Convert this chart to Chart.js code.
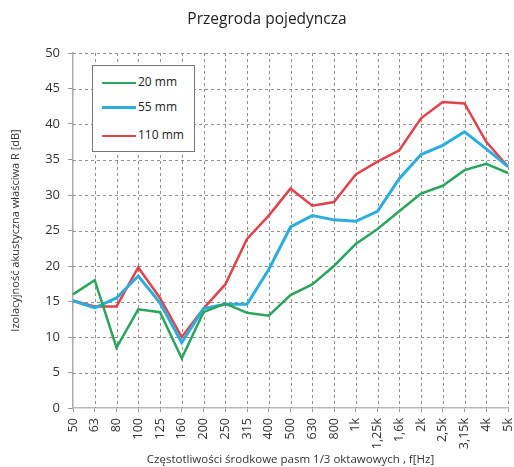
<!DOCTYPE html>
<html>
<head>
<meta charset="utf-8">
<script src="https://cdn.jsdelivr.net/npm/chart.js@4"></script>
<style>
  body { margin: 0; background: #fff; }
  #wrap { position: relative; width: 514px; height: 467px; }
  #legend {
    position: absolute; left: 92px; top: 65px; width: 101px; height: 85px;
    border: 1.5px solid #777; background: #fff;
    font-family: "Open Sans", sans-serif; font-size: 12px; color: #222;
  }
  #legend .row { position: absolute; left: 9px; height: 14px; line-height: 14px; }
  #legend .sw { display: inline-block; width: 34px; vertical-align: middle; margin-right: 2px; }
</style>
</head>
<body>
<div id="wrap">
  <canvas id="chart" width="514" height="467"></canvas>
  <div id="legend"></div>
</div>
<script>
const freqLabels = ['50', '63', '80', '100', '125', '160', '200', '250', '315', '400', '500',
  '630', '800', '1k', '1,25k', '1,6k', '2k', '2,5k', '3,15k', '4k', '5k'];
const r20 = [16.0, 18.0, 8.5, 13.9, 13.5, 7.0, 13.5, 14.7, 13.4, 13.0, 15.9,
  17.4, 20.0, 23.1, 25.2, 27.7, 30.2, 31.3, 33.5, 34.4, 33.1];
const r55 = [15.1, 14.1, 15.5, 18.6, 14.8, 9.2, 14.0, 14.6, 14.6, 19.5, 25.5,
  27.1, 26.5, 26.3, 27.7, 32.3, 35.7, 37.0, 38.9, 36.5, 34.0];
const r110 = [15.1, 14.3, 14.3, 19.8, 15.5, 10.0, 14.0, 17.4, 23.8, 27.1, 30.9,
  28.5, 29.0, 32.9, 34.7, 36.3, 40.8, 43.1, 42.9, 37.5, 34.0];

const series = [
  { label: '20 mm', data: r20, color: '#2ba55b', width: 2.5 },
  { label: '55 mm', data: r55, color: '#2badde', width: 3 },
  { label: '110 mm', data: r110, color: '#e2434b', width: 2.5 }
];

const font = "'Open Sans', sans-serif";
const gridColor = '#8f8f8f';

// title drawn on the canvas, a bit right of the canvas centre as in the original
const titlePlugin = {
  id: 'plotTitle',
  afterDraw(chart) {
    const ctx = chart.ctx;
    ctx.save();
    ctx.font = '15.5px ' + font;
    ctx.fillStyle = '#222';
    ctx.textAlign = 'center';
    ctx.textBaseline = 'middle';
    ctx.fillText('Przegroda pojedyncza', 267, 20);
    ctx.restore();
  }
};

// dashed grid inside the plot, at the scales' own tick positions
const dashedGrid = {
  id: 'dashedGrid',
  beforeDatasetsDraw(chart) {
    const { ctx, chartArea: a, scales: { x, y } } = chart;
    ctx.save();
    ctx.strokeStyle = gridColor;
    ctx.lineWidth = 1;
    ctx.setLineDash([3, 3]);
    x.ticks.forEach((t, i) => {
      const px = Math.round(x.getPixelForTick(i)) + 0.5;
      if (i === 0) return;
      ctx.beginPath(); ctx.moveTo(px, a.top); ctx.lineTo(px, a.bottom); ctx.stroke();
    });
    y.ticks.forEach((t, i) => {
      const py = Math.round(y.getPixelForTick(i)) + 0.5;
      if (t.value === 0) return;
      ctx.beginPath(); ctx.moveTo(a.left, py); ctx.lineTo(a.right, py); ctx.stroke();
    });
    ctx.restore();
  }
};

new Chart(document.getElementById('chart'), {
  type: 'line',
  data: {
    labels: freqLabels,
    datasets: series.map(s => ({
      label: s.label,
      data: s.data,
      borderColor: s.color,
      borderWidth: s.width,
      pointRadius: 0,
      tension: 0,
      fill: false
    }))
  },
  options: {
    responsive: false,
    animation: false,
    layout: { padding: { left: 0, right: 6, top: 53, bottom: 0 } },
    plugins: {
      legend: { display: false },
      tooltip: { enabled: false }
    },
    scales: {
      x: {
        offset: false,
        grid: { drawOnChartArea: false, tickLength: 4, tickColor: '#999' },
        border: { display: true, color: '#bbb', width: 1.5 },
        ticks: {
          color: '#333', font: { family: font, size: 12.5 },
          minRotation: 90, maxRotation: 90, padding: 6, autoSkip: false
        },
        title: {
          display: true,
          text: 'Częstotliwości środkowe pasm 1/3 oktawowych , f[Hz]',
          color: '#333', font: { family: font, size: 11.5 },
          padding: { top: 8, bottom: 0 }
        },
        afterFit: s => { s.height = 59; s.paddingLeft = 0; s.paddingRight = 0; }
      },
      y: {
        min: 0, max: 50,
        grid: { drawOnChartArea: false, tickLength: 5, tickColor: '#999' },
        border: { display: true, color: '#aaa', width: 1.5 },
        ticks: { stepSize: 5, color: '#333', font: { family: font, size: 13 }, padding: 8 },
        title: {
          display: true,
          text: 'Izolacyjność akustyczna właściwa R [dB]',
          color: '#333', font: { family: font, size: 11 },
          padding: { top: 9, bottom: 4 }
        },
        afterFit: s => { s.width = 73; }
      }
    }
  },
  plugins: [titlePlugin, dashedGrid]
});

const legend = document.getElementById('legend');
const rowTops = [9, 34, 62];
series.forEach((s, i) => {
  const row = document.createElement('div');
  row.className = 'row';
  row.style.top = rowTops[i] + 'px';
  const sw = document.createElement('span');
  sw.className = 'sw';
  sw.style.borderTop = s.width + 'px solid ' + s.color;
  row.appendChild(sw);
  row.appendChild(document.createTextNode(s.label));
  legend.appendChild(row);
});
</script>
</body>
</html>
